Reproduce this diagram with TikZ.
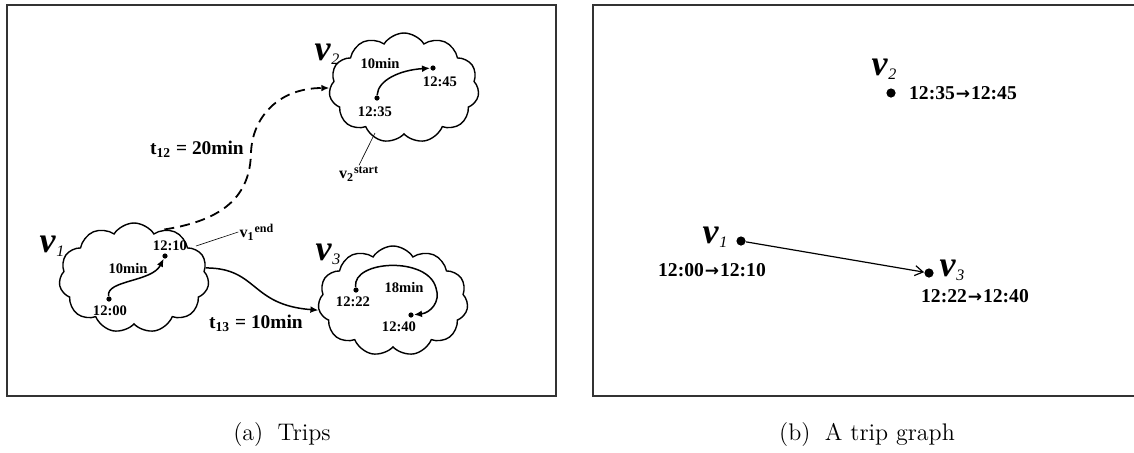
\documentclass[tikz,border=0pt]{standalone}
\usepackage{fontspec}
\newfontfamily\tnr{Liberation Serif}
\newfontfamily\sym{DejaVu Sans}
\usetikzlibrary{arrows.meta, positioning, shapes.symbols}

% vertex name: bold italic v with a small light subscript
\newcommand\vx[1]{v\kern0.02em\raisebox{-0.1em}{\fontsize{8}{8}\selectfont\mdseries#1}}
% bold arrow between two times
\newcommand\thru{\kern0.05em{\sym\bfseries\fontsize{8.5}{9}\selectfont →}\kern0.05em}

\tikzset{
  panel/.style={draw=black!80, line width=1.1pt},
  place/.style={cloud, draw, line width=0.7pt, cloud puffs=11, cloud puff arc=115,
    aspect=1.35, minimum width=75pt, minimum height=55pt, inner sep=0pt},
  tdot/.style={circle, fill, inner sep=0pt, minimum size=2.6pt},
  gdot/.style={circle, fill, inner sep=0pt, minimum size=4.6pt},
  stamp/.style={font=\tnr\bfseries\fontsize{7.3}{8}\selectfont, inner sep=0.5pt},
  gap/.style={font=\tnr\bfseries\fontsize{9.7}{11}\selectfont, inner sep=0.5pt},
  glabel/.style={font=\tnr\bfseries\fontsize{9.8}{11}\selectfont, inner sep=0.5pt},
  vname/.style={font=\tnr\bfseries\itshape\fontsize{18}{20}\selectfont, inner sep=0pt},
  move/.style={-{Latex[length=4pt,width=3.4pt]}, line width=0.75pt},
  leader/.style={line width=0.3pt},
  link/.style={-{Straight Barb[length=4pt,width=5pt]}, line width=0.6pt},
}

\begin{document}
\begin{tikzpicture}[x=0.5pt, y=-0.5pt]
  \useasboundingbox (0,0) rectangle (1134,452);

  % (a) the trips, one cloud per vertex
  \draw[panel] (7,5) rectangle (556,396);
  \node[place] (c1) at (134,278) {};
  \node[place] (c2) at (404,88) {};
  \node[place] (c3) at (393,301) {};
  \node[vname] (n1) at (52,246) {\vx{1}};
  \node[vname] (n2) at (327,54) {\vx{2}};
  \node[vname] (n3) at (328,254) {\vx{3}};

  % stay in v1
  \node[tdot] (a1) at (109,299) {};
  \node[tdot] (b1) at (165,256) {};
  \node[stamp] (sa1) at (110,311) {12:00};
  \node[stamp] (sb1) at (170,246) {12:10};
  \node[stamp] (w1) at (128,268) {10min};
  \draw[move] (a1) .. controls (106,280) and (152,282) .. (b1);

  % stay in v2
  \node[tdot] (a2) at (377,98) {};
  \node[tdot] (b2) at (433,68) {};
  \node[stamp] (sa2) at (375,112) {12:35};
  \node[stamp] (sb2) at (440,82) {12:45};
  \node[stamp] (w2) at (380,63) {10min};
  \draw[move] (a2) .. controls (378,80) and (400,70) .. (b2);

  % stay in v3
  \node[tdot] (a3) at (356,290) {};
  \node[tdot] (b3) at (411,315) {};
  \node[stamp] (sa3) at (353,302) {12:22};
  \node[stamp] (sb3) at (399,327) {12:40};
  \node[stamp] (w3) at (404,287) {18min};
  \coordinate (turn3) at (436,288);
  \draw[move] (a3) .. controls (352,260) and (428,256) .. (turn3)
    .. controls (441,302) and (430,313) .. (b3);

  % end and start markers
  \node[stamp, font=\tnr\bfseries\fontsize{8}{9}\selectfont] (e1) at (257,232) {v\textsubscript{1}\textsuperscript{end}};
  \coordinate (e1foot) at (196,246);
  \draw[leader] (e1.west) -- (e1foot);
  \node[stamp, font=\tnr\bfseries\fontsize{8}{9}\selectfont] (s2) at (359,174) {v\textsubscript{2}\textsuperscript{start}};
  \coordinate (s2foot) at (375,133);
  \draw[leader] (s2.north) -- (s2foot);

  % travel between vertices
  \coordinate (m12) at (251,153);
  \draw[move, dashed, dash pattern=on 5pt off 3pt, line width=0.9pt] (c1.58)
    .. controls (225,220) and (250,195) .. (m12)
    .. controls (252,118) and (278,88) .. (c2.west);
  \node[gap] (t12) at (197,149) {t\textsubscript{12} = 20min};
  \draw[move] (c1.8) .. controls (258,268) and (250,305) .. (c3.187);
  \node[gap] (t13) at (256,323) {t\textsubscript{13} = 10min};

  % (b) the trip graph
  \draw[panel] (593,5) rectangle (1140,396);
  \node[gdot] (g1) at (741,241) {};
  \node[gdot] (g2) at (891,93) {};
  \node[gdot] (g3) at (929,273) {};
  \node[vname] (m1) at (715,237) {\vx{1}};
  \node[vname] (m2) at (884,69) {\vx{2}};
  \node[vname] (m3) at (952,270) {\vx{3}};
  \node[glabel] (r1) at (712,270) {12:00\thru 12:10};
  \node[glabel] (r2) at (963,93) {12:35\thru 12:45};
  \node[glabel] (r3) at (975,296) {12:22\thru 12:40};
  \draw[link] (g1) -- (g3);

  % subfigure captions
  \node[font=\fontsize{12}{14}\selectfont] (capa) at (282,434) {(a)\hspace{0.6em}Trips};
  \node[font=\fontsize{12}{14}\selectfont] (capb) at (867,434) {(b)\hspace{0.6em}A trip graph};
\end{tikzpicture}
\end{document}
